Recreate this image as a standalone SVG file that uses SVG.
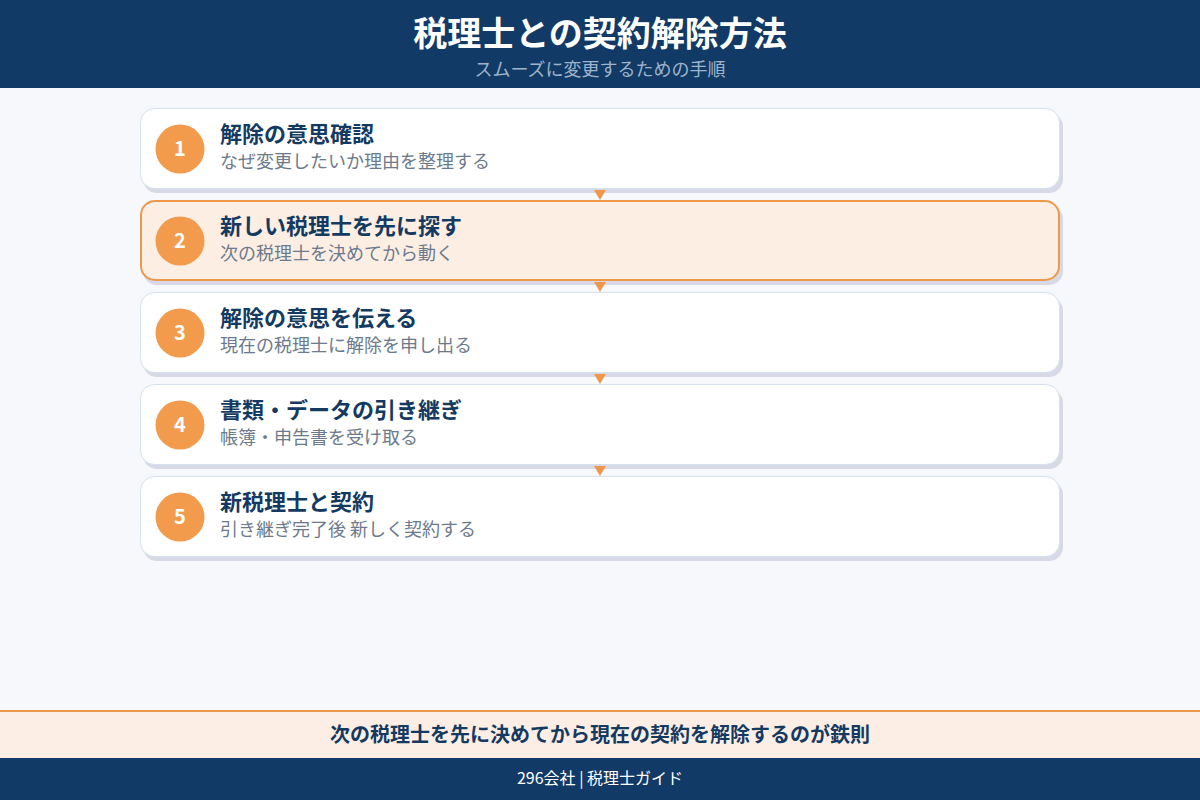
<svg xmlns="http://www.w3.org/2000/svg" width="1200" height="800" viewBox="0 0 1200 800">
<style>
text{font-family:"Noto Sans CJK JP","Noto Sans",sans-serif}
.card{fill:#ffffff;stroke:#d6e1ef;stroke-width:1}
.hl{fill:#fdeee4;stroke:#f0984a;stroke-width:2}
.shadow{fill:#d7dae6}
.num{fill:#f29b4c}
.numt{fill:#ffffff;font-size:20px;font-weight:700;text-anchor:middle}
.t{fill:#143a62;font-size:22px;font-weight:700}
.s{fill:#6b7a8c;font-size:18px}
.arr{fill:#f0984a}
</style>
<rect width="1200" height="800" fill="#f6f8fc"/>
<g id="header">
<rect x="0" y="0" width="1200" height="88" fill="#123a66"/>
<text x="600" y="46" text-anchor="middle" fill="#ffffff" font-size="34" font-weight="700">税理士との契約解除方法</text>
<text x="600" y="76" text-anchor="middle" fill="#9fb4cc" font-size="18">スムーズに変更するための手順</text>
</g>
<g id="step1">
<rect class="shadow" x="143" y="113" width="920" height="80" rx="14"/>
<rect class="card" x="140.5" y="108.5" width="919" height="80" rx="14"/>
<circle class="num" cx="180" cy="149" r="24.5"/>
<text class="numt" x="180" y="156">1</text>
<text class="t" x="220" y="142">解除の意思確認</text>
<text class="s" x="220" y="168">なぜ変更したいか理由を整理する</text>
</g>
<g id="step2">
<rect class="shadow" x="143" y="205" width="920" height="80" rx="14"/>
<rect class="hl" x="141" y="201" width="918" height="79" rx="14"/>
<circle class="num" cx="180" cy="241" r="24.5"/>
<text class="numt" x="180" y="248">2</text>
<text class="t" x="220" y="234">新しい税理士を先に探す</text>
<text class="s" x="220" y="260">次の税理士を決めてから動く</text>
</g>
<g id="step3">
<rect class="shadow" x="143" y="297" width="920" height="80" rx="14"/>
<rect class="card" x="140.5" y="292.5" width="919" height="80" rx="14"/>
<circle class="num" cx="180" cy="333" r="24.5"/>
<text class="numt" x="180" y="340">3</text>
<text class="t" x="220" y="326">解除の意思を伝える</text>
<text class="s" x="220" y="352">現在の税理士に解除を申し出る</text>
</g>
<g id="step4">
<rect class="shadow" x="143" y="389" width="920" height="80" rx="14"/>
<rect class="card" x="140.5" y="384.5" width="919" height="80" rx="14"/>
<circle class="num" cx="180" cy="425" r="24.5"/>
<text class="numt" x="180" y="432">4</text>
<text class="t" x="220" y="418">書類・データの引き継ぎ</text>
<text class="s" x="220" y="444">帳簿・申告書を受け取る</text>
</g>
<g id="step5">
<rect class="shadow" x="143" y="481" width="920" height="80" rx="14"/>
<rect class="card" x="140.5" y="476.5" width="919" height="80" rx="14"/>
<circle class="num" cx="180" cy="517" r="24.5"/>
<text class="numt" x="180" y="524">5</text>
<text class="t" x="220" y="510">新税理士と契約</text>
<text class="s" x="220" y="536">引き継ぎ完了後 新しく契約する</text>
</g>
<g id="connectors">
<polygon class="arr" points="594,190 606,190 600,200"/>
<polygon class="arr" points="594,282 606,282 600,292"/>
<polygon class="arr" points="594,374 606,374 600,384"/>
<polygon class="arr" points="594,466 606,466 600,476"/>
</g>
<g id="banner">
<rect x="0" y="710" width="1200" height="48" fill="#fdeee5"/>
<rect x="0" y="710" width="1200" height="2" fill="#f0984a"/>
<text x="600" y="742" text-anchor="middle" fill="#143a62" font-size="20" font-weight="700">次の税理士を先に決めてから現在の契約を解除するのが鉄則</text>
</g>
<g id="footer">
<rect x="0" y="758" width="1200" height="42" fill="#123a66"/>
<text x="600" y="784" text-anchor="middle" fill="#ffffff" font-size="16">296会社 | 税理士ガイド</text>
</g>
</svg>
